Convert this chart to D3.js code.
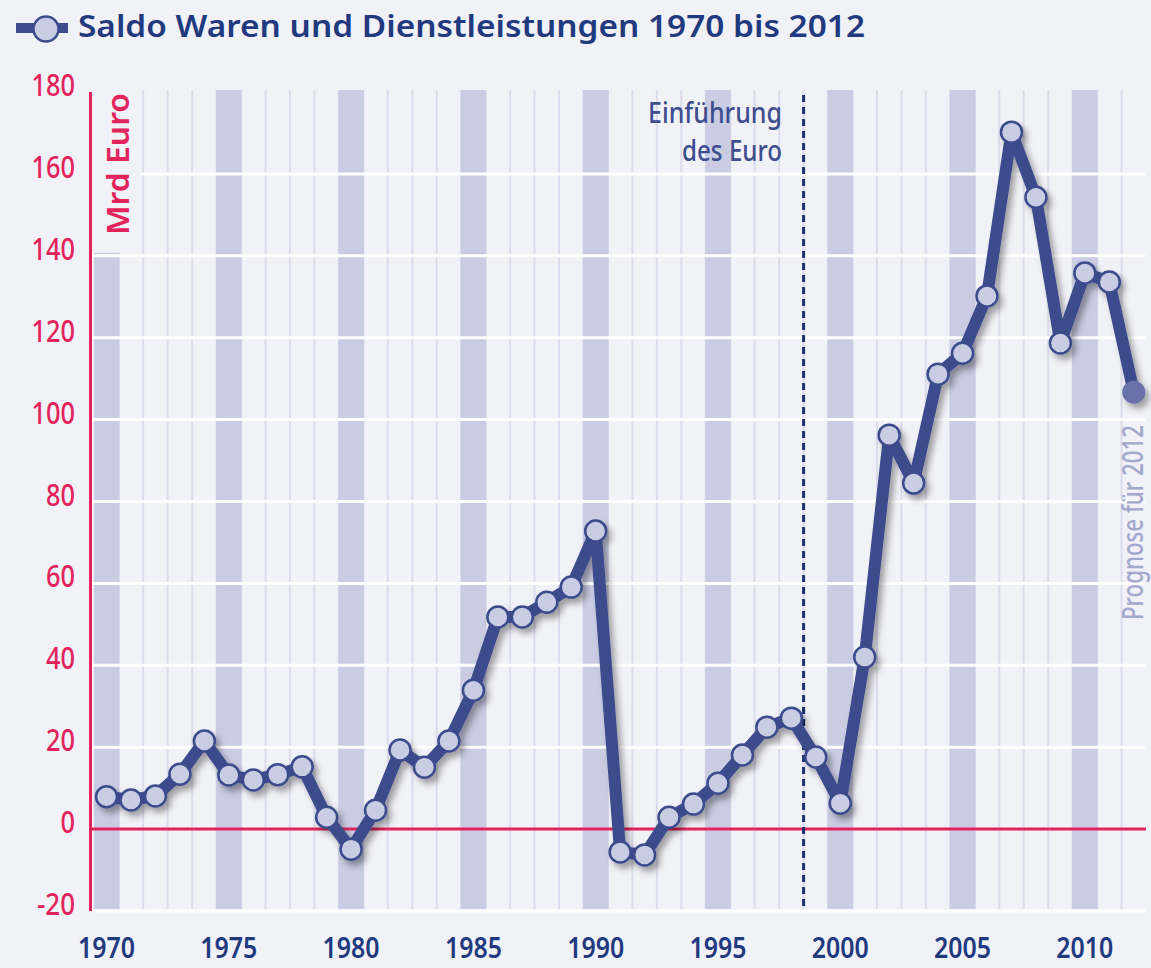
<!DOCTYPE html>
<html>
<head>
<meta charset="utf-8">
<script src="https://cdn.jsdelivr.net/npm/d3@7"></script>
<style>
  html, body { margin: 0; padding: 0; background: #f1f1f8; }
  svg { display: block; }
</style>
</head>
<body>
<div id="chart"></div>
<script>
// Saldo Waren und Dienstleistungen 1970 - 2012 (Mrd Euro)

const years = [1970, 1971, 1972, 1973, 1974, 1975, 1976, 1977, 1978, 1979,
               1980, 1981, 1982, 1983, 1984, 1985, 1986, 1987, 1988, 1989,
               1990, 1991, 1992, 1993, 1994, 1995, 1996, 1997, 1998, 1999,
               2000, 2001, 2002, 2003, 2004, 2005, 2006, 2007, 2008, 2009,
               2010, 2011, 2012];
const saldo = [7.9, 7.1, 8.1, 13.4, 21.5, 13.2, 12.0, 13.3, 15.2, 2.9,
               -4.9, 4.6, 19.3, 15.1, 21.5, 33.9, 51.8, 51.8, 55.4, 59.1,
               72.8, -5.6, -6.3, 2.9, 6.1, 11.2, 18.1, 24.9, 27.1, 17.6,
               6.3, 42.0, 96.2, 84.5, 111.1, 116.2, 130.2, 170.2, 154.3, 118.7,
               135.8, 133.6, 106.7];
const yTicks = [-20, 0, 20, 40, 60, 80, 100, 120, 140, 160, 180];
const xTickYears = [1970, 1975, 1980, 1985, 1990, 1995, 2000, 2005, 2010];
const bandYears = [1970, 1975, 1980, 1985, 1990, 1995, 2000, 2005, 2010];
const euroYear = 1998.5;
const prognoseYear = 2012;

const W = 1151, H = 968;
const colors = {
    bg: "#f1f1f8",
    band: "#c9cce2",
    vline: "#dcdcec",
    pink: "#e3245c",
    navy: "#3b4b8c",
    title: "#1f3a7e",
    dot: "#c9cde4",
    last: "#6771a9",
    prognose: "#a3a8cd"
};

let svg = d3.select("#chart").append("svg")
    .attr("width", W)
    .attr("height", H);

svg.append("rect").attr("width", W).attr("height", H).attr("fill", colors.bg);

let defs = svg.append("defs");
defs.append("filter")
    .attr("id", "shadow")
    .attr("x", "-10%").attr("y", "-10%")
    .attr("width", "120%").attr("height", "120%")
    .append("feDropShadow")
    .attr("dx", 4).attr("dy", 5)
    .attr("stdDeviation", 3)
    .attr("flood-color", "#000")
    .attr("flood-opacity", 0.35);

let xScale = d3.scaleLinear()
    .domain([1969.5, 2012.5])
    .range([94.3, 1146]);
let yScale = d3.scaleLinear()
    .domain([-20, 180])
    .range([911, 92]);

let colW = xScale(1971) - xScale(1970);
let plotTop = 90, plotBottom = 909;

// vertical year separators
let bounds = years.slice(1).map(y => y - 0.5);
svg.append("g").selectAll("line").data(bounds).enter().append("line")
    .attr("x1", d => xScale(d)).attr("x2", d => xScale(d))
    .attr("y1", plotTop).attr("y2", plotBottom)
    .attr("stroke", colors.vline)
    .attr("stroke-width", 2);

// shaded 5-year columns
svg.append("g").selectAll("rect").data(bandYears).enter().append("rect")
    .attr("x", d => xScale(d) - colW / 2 - 0.5)
    .attr("y", plotTop)
    .attr("width", colW + 1)
    .attr("height", plotBottom - plotTop)
    .attr("fill", colors.band);

// white horizontal grid
svg.append("g").selectAll("line").data(yTicks.filter(d => d !== 0 && d !== 180)).enter().append("line")
    .attr("x1", 92).attr("x2", 1145)
    .attr("y1", d => yScale(d)).attr("y2", d => yScale(d))
    .attr("stroke", "#fff")
    .attr("stroke-width", 3);

// clear area behind unit label
svg.append("rect")
    .attr("x", 92).attr("y", plotTop - 2)
    .attr("width", 49).attr("height", yScale(140) - plotTop - 1)
    .attr("fill", colors.bg);

// y axis line, zero line
svg.append("line")
    .attr("x1", 90.5).attr("x2", 90.5)
    .attr("y1", 92).attr("y2", 911)
    .attr("stroke", colors.pink).attr("stroke-width", 3);
svg.append("line")
    .attr("x1", 90).attr("x2", 1146)
    .attr("y1", yScale(0)).attr("y2", yScale(0))
    .attr("stroke", colors.pink).attr("stroke-width", 3);

// y tick labels (condensed look via textLength)
svg.append("g").selectAll("text").data(yTicks).enter().append("text")
    .attr("x", 75)
    .attr("y", d => yScale(d) + 4)
    .attr("text-anchor", "end")
    .attr("font-family", "'Noto Sans', sans-serif")
    .attr("font-weight", 500)
    .attr("font-size", 31)
    .attr("textLength", d => String(Math.abs(d)).length * 14.5 + (d < 0 ? 9 : 0))
    .attr("lengthAdjust", "spacingAndGlyphs")
    .attr("fill", colors.pink)
    .text(d => d);

// x tick labels
svg.append("g").selectAll("text").data(xTickYears).enter().append("text")
    .attr("x", d => xScale(d))
    .attr("y", 958)
    .attr("text-anchor", "middle")
    .attr("font-family", "'Noto Sans', sans-serif")
    .attr("font-weight", 600)
    .attr("font-size", 28)
    .attr("textLength", 57)
    .attr("lengthAdjust", "spacingAndGlyphs")
    .attr("fill", colors.title)
    .text(d => d);

// unit label
svg.append("text")
    .attr("transform", "translate(129,235) rotate(-90)")
    .attr("font-family", "'Noto Sans', sans-serif")
    .attr("font-weight", 600)
    .attr("font-size", 31)
    .attr("textLength", 142)
    .attr("lengthAdjust", "spacingAndGlyphs")
    .attr("fill", colors.pink)
    .text("Mrd Euro");

// euro introduction marker
svg.append("line")
    .attr("x1", xScale(euroYear)).attr("x2", xScale(euroYear))
    .attr("y1", 95).attr("y2", plotBottom)
    .attr("stroke", "#1c2f6e")
    .attr("stroke-width", 3)
    .attr("stroke-dasharray", "7,5");
let euroText = svg.append("g")
    .attr("font-family", "'Noto Sans', sans-serif")
    .attr("font-weight", 500)
    .attr("font-size", 29)
    .attr("fill", "#3d4d8e")
    .attr("text-anchor", "end");
euroText.append("text").attr("x", 782).attr("y", 123)
    .attr("textLength", 134).attr("lengthAdjust", "spacingAndGlyphs")
    .text("Einführung");
euroText.append("text").attr("x", 782).attr("y", 161)
    .attr("textLength", 100).attr("lengthAdjust", "spacingAndGlyphs")
    .text("des Euro");

// forecast label
svg.append("text")
    .attr("transform", "translate(" + (xScale(prognoseYear) + 9) + ",620) rotate(-90)")
    .attr("font-family", "'Noto Sans', sans-serif")
    .attr("font-weight", 500)
    .attr("font-size", 29)
    .attr("textLength", 195)
    .attr("lengthAdjust", "spacingAndGlyphs")
    .attr("fill", colors.prognose)
    .text("Prognose für 2012");

// series
let pts = years.map((y, i) => ({ year: y, value: saldo[i] }));
let series = svg.append("g").attr("filter", "url(#shadow)");
let line = d3.line()
    .x(d => xScale(d.year))
    .y(d => yScale(d.value));
series.append("path")
    .datum(pts)
    .attr("d", line)
    .attr("fill", "none")
    .attr("stroke", colors.navy)
    .attr("stroke-width", 12)
    .attr("stroke-linejoin", "round");
series.selectAll("circle").data(pts).enter().append("circle")
    .attr("cx", d => xScale(d.year))
    .attr("cy", d => yScale(d.value))
    .attr("r", d => d.year === prognoseYear ? 11.5 : 10.5)
    .attr("fill", d => d.year === prognoseYear ? colors.last : colors.dot)
    .attr("stroke", d => d.year === prognoseYear ? "none" : colors.navy)
    .attr("stroke-width", 2.5);

// title with legend icon
let legend = svg.append("g");
legend.append("line")
    .attr("x1", 16).attr("x2", 68)
    .attr("y1", 28).attr("y2", 28)
    .attr("stroke", colors.navy)
    .attr("stroke-width", 10);
legend.append("circle")
    .attr("cx", 46).attr("cy", 29).attr("r", 12.5)
    .attr("fill", colors.dot)
    .attr("stroke", colors.navy)
    .attr("stroke-width", 2.5);
svg.append("text")
    .attr("x", 78).attr("y", 37)
    .attr("font-family", "'Noto Sans', sans-serif")
    .attr("font-weight", 600)
    .attr("font-size", 31)
    .attr("textLength", 787)
    .attr("lengthAdjust", "spacingAndGlyphs")
    .attr("fill", colors.title)
    .text("Saldo Waren und Dienstleistungen 1970 bis 2012");
</script>
</body>
</html>
